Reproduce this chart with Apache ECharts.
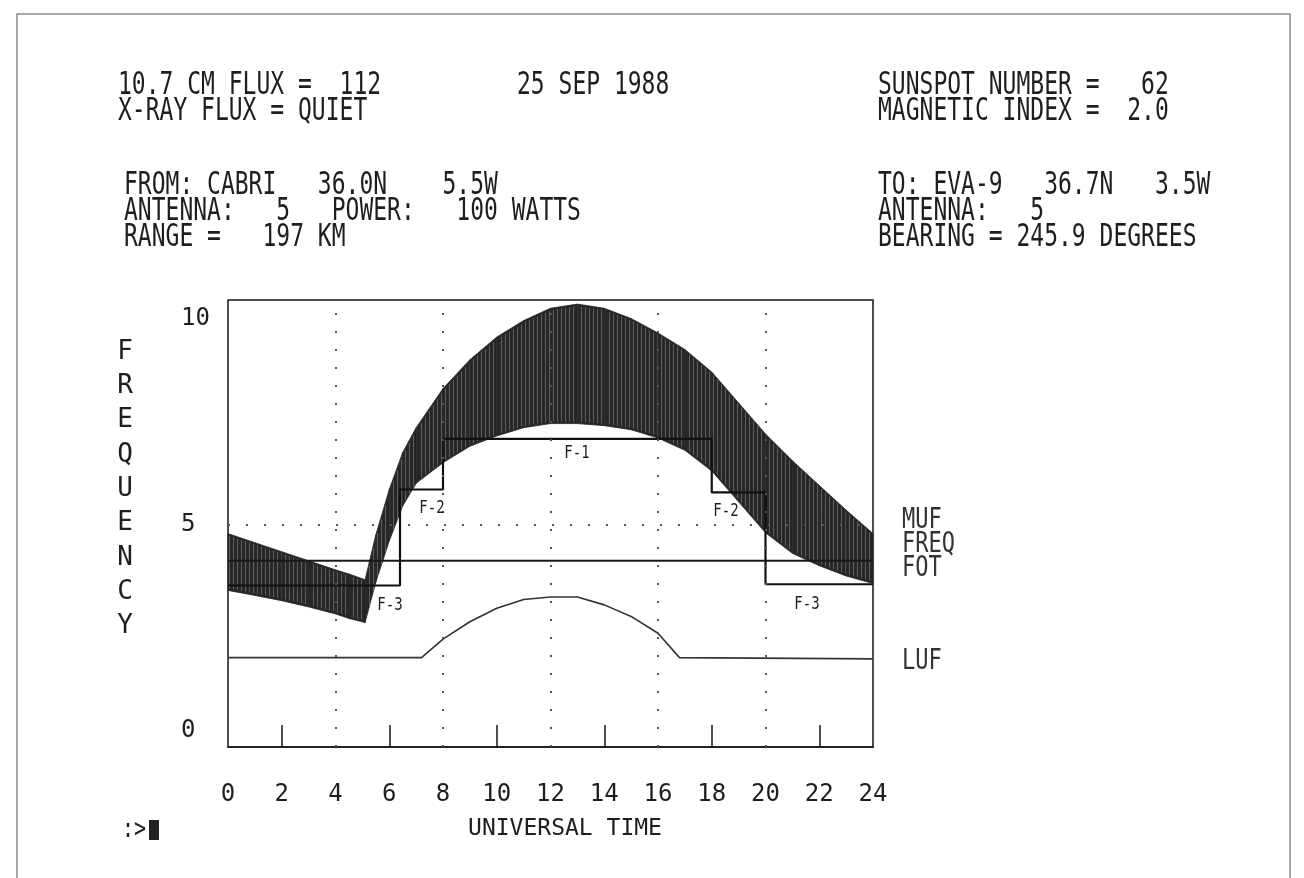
<!DOCTYPE html>
<html>
<head>
<meta charset="utf-8">
<script src="https://cdn.jsdelivr.net/npm/echarts@6/dist/echarts.min.js"></script>
<style>
html,body{margin:0;padding:0;background:#fff;}
#c{width:1304px;height:878px;}
</style>
</head>
<body>
<div id="c"></div>
<script>
// ---------------- data ----------------
const hours   = [0,   1,   2,   3,   4,   4.5, 5.1, 5.5, 6,   6.5, 7,   8,   9,   10,  11,  12,   13,   14,   15,   16,   17,   18,  19,   20,  21,   22,   23,   24];
const mufHigh = [4.78,4.56,4.34,4.12,3.9, 3.8, 3.66,4.75,5.85,6.75,7.35,8.3, 9.0, 9.55,9.95,10.25,10.35,10.25,10.0, 9.65, 9.25, 8.7, 7.95, 7.2, 6.55, 5.95, 5.35, 4.78];
const mufLow  = [3.4, 3.28,3.15,3.0, 2.83,2.72,2.62,3.6, 4.6, 5.45,6.0, 6.5, 6.9, 7.15,7.35,7.45, 7.45, 7.4, 7.3, 7.1, 6.8, 6.3, 5.55, 4.8, 4.3, 4.0, 3.75, 3.57];

const fotTimes  = [0,    6.4,  8,    18,   20,   24];
const fotValues = [3.52, 5.85, 7.08, 5.78, 3.55, 3.55];
const fotLabels = ['F-3','F-2','F-1','F-2','F-3'];

const freqTimes  = [0, 24];
const freqValues = [4.12, 4.12];

const lufTimes  = [0,    7.2,  8,    9,    10,   11,   12,   13,   14,   15,   16,   16.8, 24];
const lufValues = [1.77, 1.77, 2.22, 2.64, 2.97, 3.18, 3.24, 3.24, 3.05, 2.77, 2.36, 1.77, 1.74];

const seriesNames   = ['MUF', 'FREQ', 'FOT', 'LUF'];
const gridHours     = [4, 8, 12, 16, 20];
const gridFreqs     = [5];
const tickHours     = [2, 6, 10, 14, 18, 22];
const yLabelValues  = [0, 5, 10];

const headerLines = [
  '10.7 CM FLUX =  112', 'X-RAY FLUX = QUIET',
  '25 SEP 1988',
  'SUNSPOT NUMBER =   62', 'MAGNETIC INDEX =  2.0',
  'FROM: CABRI   36.0N    5.5W', 'ANTENNA:   5   POWER:   100 WATTS', 'RANGE =   197 KM',
  'TO: EVA-9   36.7N   3.5W', 'ANTENNA:   5', 'BEARING = 245.9 DEGREES'
];

// ---------------- layout / style ----------------
const MONO = "'DejaVu Sans Mono','Liberation Mono',monospace";
const INK = '#1e1e1e';

function txt(text, x, y, size, sy, opts) {
  opts = opts || {};
  return {
    type: 'text', x: x, y: y, scaleY: sy, silent: true, z: 10,
    style: {
      text: text, fontSize: size, fontFamily: opts.family || MONO,
      fill: opts.fill || INK,
      textAlign: opts.align || 'left', align: opts.align || 'left',
      textVerticalAlign: 'middle', verticalAlign: 'middle'
    }
  };
}

const headerPos = [
  [118, 86], [118, 112],
  [517, 86],
  [878, 86], [878, 112],
  [124, 186], [124, 212], [124, 238],
  [878, 186], [878, 212], [878, 238]
];

const graphics = [];
headerLines.forEach((t, i) => graphics.push(txt(t, headerPos[i][0], headerPos[i][1], 23, 1.4)));
// right side legend labels
const legendPos = [[902, 521], [902, 545], [902, 569], [902, 662]];
seriesNames.forEach((n, i) => graphics.push(txt(n, legendPos[i][0], legendPos[i][1], 22, 1.3, {fill: '#333'})));
// FOT segment labels
const fotLabelPos = [[390, 605], [432, 508], [577, 453], [726, 511], [807, 604]];
fotLabels.forEach((n, i) => graphics.push(txt(n, fotLabelPos[i][0], fotLabelPos[i][1], 14, 1.25, {align: 'center'})));
// prompt
graphics.push(txt(':>', 122, 830, 20, 1.3));
graphics.push({type: 'rect', shape: {x: 149, y: 820, width: 10, height: 20}, style: {fill: '#222'}, silent: true});
// page frame
graphics.push({type: 'rect', shape: {x: 17, y: 14, width: 1273, height: 900}, style: {fill: 'none', stroke: '#8c8c8c', lineWidth: 1.5}, silent: true, z: 0});

const chart = echarts.init(document.getElementById('c'), null, {renderer: 'canvas'});

const option = {
  backgroundColor: '#ffffff',
  animation: false,
  grid: {left: 228, right: 431, top: 300, bottom: 131, show: true, borderColor: '#151515', borderWidth: 1.5, backgroundColor: 'transparent'},
  xAxis: {
    type: 'value', min: 0, max: 24, interval: 2,
    axisLine: {show: true, onZero: false, lineStyle: {color: '#151515', width: 1.5}},
    axisTick: {show: true, customValues: tickHours, inside: true, length: 22, lineStyle: {color: '#151515', width: 1.5}},
    splitLine: {show: false},
    axisLabel: {color: INK, fontFamily: MONO, fontSize: 24, margin: 36},
    name: 'UNIVERSAL TIME', nameLocation: 'middle', nameGap: 71,
    nameTextStyle: {color: INK, fontFamily: MONO, fontSize: 23, padding: [0, 0, 0, 29]}
  },
  yAxis: {
    type: 'value', min: -0.4, max: 10.45,
    axisLine: {show: false}, axisTick: {show: false}, splitLine: {show: false},
    axisLabel: {customValues: yLabelValues, color: INK, fontFamily: MONO, fontSize: 24, align: 'left', margin: 47},
    name: 'F\nR\nE\nQ\nU\nE\nN\nC\nY\n\n', nameLocation: 'middle', nameRotate: 0, nameGap: 103,
    nameTextStyle: {color: INK, fontFamily: MONO, fontSize: 26, lineHeight: 34.3, align: 'center', verticalAlign: 'middle'}
  },
  graphic: {elements: graphics},
  series: [
    {
      name: 'grid', type: 'line', z: 1, data: [], silent: true,
      markLine: {
        silent: true, symbol: 'none', label: {show: false},
        lineStyle: {type: [2, 16], color: '#555', width: 2},
        data: gridHours.map(h => ({xAxis: h})).concat(gridFreqs.map(v => ({yAxis: v})))
      }
    },
    {
      name: seriesNames[0], type: 'custom', z: 2, silent: true,
      data: hours.map((h, i) => [h, mufLow[i], mufHigh[i]]),
      encode: {x: 0, y: [1, 2]},
      renderItem: function (params, api) {
        const i = params.dataIndex;
        if (i >= hours.length - 1) return null;
        const a = api.coord([hours[i], mufHigh[i]]);
        const b = api.coord([hours[i + 1], mufHigh[i + 1]]);
        const c = api.coord([hours[i + 1], mufLow[i + 1]]);
        const d = api.coord([hours[i], mufLow[i]]);
        const children = [{
          type: 'polygon', shape: {points: [a, b, c, d]},
          style: {fill: '#272727', stroke: '#272727', lineWidth: 0.8}
        }];
        for (let x = Math.ceil(a[0] / 4) * 4 + 1; x < b[0]; x += 4) {
          const t = (x - a[0]) / (b[0] - a[0]);
          const yt = a[1] + t * (b[1] - a[1]) + 2;
          const yb = d[1] + t * (c[1] - d[1]) - 2;
          if (yb > yt) children.push({
            type: 'line', shape: {x1: x + 0.5, y1: yt, x2: x + 0.5, y2: yb},
            style: {stroke: 'rgba(255,255,255,0.26)', lineWidth: 1}
          });
        }
        return {type: 'group', children: children};
      }
    },
    {
      name: seriesNames[1], type: 'line', z: 3, symbol: 'none', silent: true,
      data: freqTimes.map((t, i) => [t, freqValues[i]]),
      lineStyle: {color: '#1a1a1a', width: 2}
    },
    {
      name: seriesNames[2], type: 'line', z: 4, symbol: 'none', silent: true, step: 'end',
      data: fotTimes.map((t, i) => [t, fotValues[i]]),
      lineStyle: {color: '#111', width: 2.2}
    },
    {
      name: seriesNames[3], type: 'line', z: 3, symbol: 'none', silent: true,
      data: lufTimes.map((t, i) => [t, lufValues[i]]),
      lineStyle: {color: '#333', width: 1.6}
    }
  ]
};
chart.setOption(option);
</script>
</body>
</html>
